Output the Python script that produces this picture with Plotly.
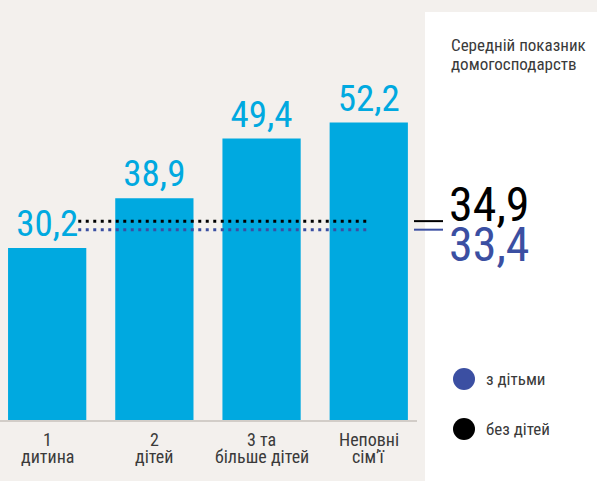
import plotly.graph_objects as go

# ---- data ----
cat_line1 = ["1", "2", "3 та", "Неповні"]
cat_line2 = ["дитина", "дітей", "більше дітей", "сім’ї"]
values = [30.2, 38.9, 49.4, 52.2]
avg_without_children = 34.9
avg_with_children = 33.4
title_lines = ["Середній показник", "домогосподарств"]
legend_labels = ["з дітьми", "без дітей"]

# ---- styles ----
CYAN = "#00a9e0"
BLUE = "#3b4fa2"
BLACK = "#000000"
TXT = "#3a3a3a"
BG = "#f3f0ed"
FONT = "Liberation Sans Narrow, Roboto Condensed, DejaVu Sans Condensed, Liberation Sans, sans-serif"

W, H = 597, 481
L, R, T, B = 0, 180, 12, 61
PW = W - L - R
PH = H - T - B


def px(x):
    return (x - L) / PW


def py(y):
    return (H - B - y) / PH


def fmt(v):
    return f"{v:.1f}".replace(".", ",")


xpos = list(range(len(values)))

fig = go.Figure()
fig.add_trace(go.Bar(
    x=xpos, y=values, width=0.73,
    marker=dict(color=CYAN, line=dict(width=0)),
    text=[fmt(v) for v in values], textposition="outside",
    textfont=dict(family=FONT, size=37, color=CYAN),
    constraintext="none", cliponaxis=False, hoverinfo="skip",
))

shapes = []
# white side panel
shapes.append(dict(type="rect", xref="paper", yref="paper",
                   x0=px(425), x1=px(600), y0=py(490), y1=py(12),
                   fillcolor="#ffffff", line=dict(width=0), layer="below"))
# dotted average lines
for val, col in [(avg_without_children, BLACK), (avg_with_children, BLUE)]:
    shapes.append(dict(type="line", xref="x", yref="y", x0=0.29, x1=3.0,
                       y0=val, y1=val, line=dict(color=col, width=3, dash="3px,4.5px")))
    shapes.append(dict(type="line", xref="paper", yref="y", x0=px(414), x1=px(443),
                       y0=val, y1=val, line=dict(color=col, width=2)))
# legend circles
for cy, col in [(379, BLUE), (429, BLACK)]:
    shapes.append(dict(type="circle", xref="paper", yref="paper",
                       xsizemode="pixel", ysizemode="pixel",
                       xanchor=px(464), yanchor=py(cy),
                       x0=-11, x1=11, y0=-11, y1=11,
                       fillcolor=col, line=dict(width=0)))

ann = []
# big average numbers
ann.append(dict(text=fmt(avg_without_children), xref="paper", yref="paper",
                x=px(447), y=py(204), xanchor="left", yanchor="middle", showarrow=False,
                font=dict(family=FONT, size=48, color=BLACK)))
ann.append(dict(text=fmt(avg_with_children), xref="paper", yref="paper",
                x=px(447), y=py(244.5), xanchor="left", yanchor="middle", showarrow=False,
                font=dict(family=FONT, size=48, color=BLUE)))
# title
for t, cy in zip(title_lines, [45, 63.5]):
    ann.append(dict(text=t, xref="paper", yref="paper", x=px(449), y=py(cy),
                    xanchor="left", yanchor="middle", showarrow=False,
                    font=dict(family=FONT, size=17, color=TXT)))
# legend texts
for t, cy in zip(legend_labels, [379, 429]):
    ann.append(dict(text=t, xref="paper", yref="paper", x=px(484), y=py(cy),
                    xanchor="left", yanchor="middle", showarrow=False,
                    font=dict(family=FONT, size=17, color=TXT)))
# category labels
for i, (a, b) in enumerate(zip(cat_line1, cat_line2)):
    ann.append(dict(text=a, xref="x", yref="paper", x=i, y=py(439),
                    xanchor="center", yanchor="middle", showarrow=False,
                    font=dict(family=FONT, size=18, color=TXT)))
    ann.append(dict(text=b, xref="x", yref="paper", x=i, y=py(457),
                    xanchor="center", yanchor="middle", showarrow=False,
                    font=dict(family=FONT, size=18, color=TXT)))

fig.update_layout(
    width=W, height=H,
    margin=dict(l=L, r=R, t=T, b=B, pad=0),
    paper_bgcolor=BG, plot_bgcolor=BG,
    showlegend=False,
    shapes=shapes, annotations=ann,
    xaxis=dict(range=[-0.44, 3.45], showgrid=False, zeroline=False,
               showticklabels=False, ticks="", showline=True,
               linecolor="#d2cdc8", linewidth=2, fixedrange=True),
    yaxis=dict(range=[0, 71.6], showgrid=False, zeroline=False,
               showticklabels=False, ticks="", showline=False, fixedrange=True),
    font=dict(family=FONT),
)

fig.write_html(
    "out.html",
    config={"displayModeBar": False},
    post_script="document.body.style.margin='0';document.body.style.overflow='hidden';",
)
